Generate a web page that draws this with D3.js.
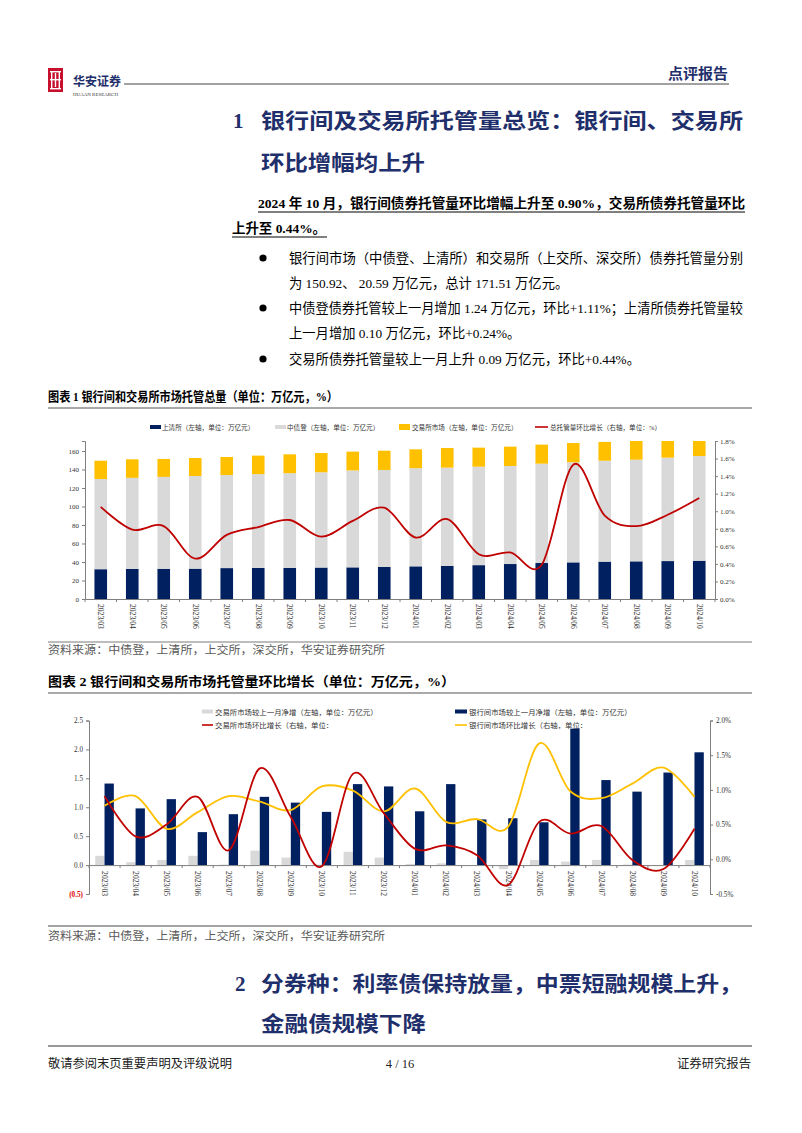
<!DOCTYPE html>
<html><head><meta charset="utf-8">
<script src="https://cdn.jsdelivr.net/npm/d3@7"></script>
<style>
html,body{margin:0;padding:0;background:#fff;}
svg{display:block;}
</style></head>
<body>
<svg id="page" width="802" height="1133"></svg>
<script>
// ---------------- DATA ----------------
const categories = ["2023/03","2023/04","2023/05","2023/06","2023/07","2023/08","2023/09","2023/10","2023/11","2023/12",
  "2024/01","2024/02","2024/03","2024/04","2024/05","2024/06","2024/07","2024/08","2024/09","2024/10"];

// Chart 1 (万亿元, %)
const shClearing = [32.2,32.6,32.7,32.8,33.4,33.6,33.7,34.0,34.2,34.6,35.3,35.7,36.6,37.8,38.9,39.6,40.4,40.7,41.0,41.4];
const ccdc       = [97.5,98.4,99.3,100.2,100.6,101.4,102.3,103.0,104.8,104.9,106.1,106.3,106.4,106.0,107.4,108.2,109.1,109.9,111.8,113.2];
const exchange   = [19.8,20.0,19.4,19.4,19.5,20.0,20.4,20.8,20.3,20.8,20.4,21.2,20.6,20.9,20.6,20.8,20.3,20.4,20.5,20.6];
const totalGrowth = [1.05,0.79,0.83,0.46,0.73,0.82,0.90,0.71,0.89,1.04,0.70,0.91,0.51,0.53,0.39,1.53,0.95,0.83,0.96,1.15];
const c1LeftTicks = [0,20,40,60,80,100,120,140,160];
const c1RightTicks = [0,0.2,0.4,0.6,0.8,1.0,1.2,1.4,1.6,1.8];

// Chart 2
const exNet    = [0.16,0.05,0.09,0.16,0.01,0.25,0.13,0.01,0.23,0.13,0.02,0.03,0.00,-0.07,0.09,0.06,0.09,0.01,-0.01,0.09];
const ibNet    = [1.41,0.98,1.14,0.57,0.88,1.18,1.08,0.92,1.40,1.36,0.93,1.40,0.79,0.81,0.74,2.36,1.47,1.27,1.60,1.95];
const exGrowth = [0.91,0.33,0.50,0.90,0.13,1.31,0.61,-0.10,1.23,0.66,0.15,0.20,0.06,-0.37,0.54,0.37,0.48,-0.01,-0.14,0.44];
const ibGrowth = [0.77,0.91,0.44,0.68,0.91,0.83,0.71,1.05,0.99,0.69,1.02,0.54,0.58,0.47,1.67,0.98,0.88,1.09,1.32,0.90];
const c2LeftTicks = [-0.5,0,0.5,1.0,1.5,2.0,2.5];
const c2LeftLabels = ["(0.5)","0.0","0.5","1.0","1.5","2.0","2.5"];
const c2RightTicks = [-0.5,0,0.5,1.0,1.5,2.0];
const c2RightLabels = ["-0.5%","0.0%","0.5%","1.0%","1.5%","2.0%"];

// ---------------- STYLE ----------------
const NAVY = "#002060", GRAY = "#d9d9d9", YELLOW = "#ffc000", RED = "#c00000";
const HEAD = "#1f2f6b";
const FONT = "'Liberation Serif','Noto Sans CJK SC',serif";
const AXIS = "#7f7f7f";

const svg = d3.select("#page");
svg.append("rect").attr("width",802).attr("height",1133).attr("fill","#fff");

function txt(x,y,s,o={}){
  const t = svg.append("text").attr("x",x).attr("y",y).text(s)
    .attr("font-family",o.family||FONT).attr("font-size",o.size||13)
    .attr("font-weight",o.weight||400).attr("fill",o.fill||"#000")
    .attr("text-anchor",o.anchor||"start");
  if(o.len){t.attr("textLength",o.len).attr("lengthAdjust","spacingAndGlyphs");}
  return t;
}
function hline(x1,x2,y,c,w){svg.append("line").attr("x1",x1).attr("x2",x2).attr("y1",y).attr("y2",y).attr("stroke",c).attr("stroke-width",w);}

// ---------------- HEADER ----------------
const logo = svg.append("g");
logo.append("rect").attr("x",48).attr("y",68).attr("width",15).attr("height",24).attr("fill","#c8102e");
[[50,71,11,1.4],[50,79,11,1.4],[50,88,11,1.4]].forEach(d=>logo.append("rect").attr("x",d[0]).attr("y",d[1]).attr("width",d[2]).attr("height",d[3]).attr("fill","#fff"));
[[51,71,1.4,18],[58.6,71,1.4,18],[54.8,73,1.4,14]].forEach(d=>logo.append("rect").attr("x",d[0]).attr("y",d[1]).attr("width",d[2]).attr("height",d[3]).attr("fill","#fff"));
txt(73,86,"华安证券",{size:12.5,weight:700,fill:HEAD,len:48});
txt(73,96,"HUAAN RESEARCH",{size:5,fill:"#333",len:45});
hline(124,729,84,"#444",1);
txt(728,79,"点评报告",{size:14.5,weight:700,fill:HEAD,anchor:"end",len:60});

// ---------------- SECTION 1 HEADING ----------------
txt(233,128,"1",{size:21,weight:700,fill:HEAD});
txt(261,128,"银行间及交易所托管量总览：银行间、交易所",{size:21,weight:700,fill:HEAD,len:482});
txt(261,170,"环比增幅均上升",{size:21,weight:700,fill:HEAD,len:164});

// paragraph
txt(258,208,"2024 年 10 月，银行间债券托管量环比增幅上升至 0.90%，交易所债券托管量环比",{size:13.5,weight:700,len:487});
hline(258,745,212,"#000",1);
txt(232,233,"上升至 0.44%。",{size:13.5,weight:700,len:94});
hline(232,327,237,"#000",1);

[258,308,359].forEach(y=>svg.append("circle").attr("cx",263).attr("cy",y).attr("r",3.6).attr("fill","#000"));
txt(289,262.5,"银行间市场（中债登、上清所）和交易所（上交所、深交所）债券托管量分别",{size:13.3,len:454});
txt(289,287.5,"为 150.92、 20.59 万亿元，总计 171.51 万亿元。",{size:13.3});
txt(289,312.5,"中债登债券托管较上一月增加 1.24 万亿元，环比+1.11%；上清所债券托管量较",{size:13.3,len:454});
txt(289,337.5,"上一月增加 0.10 万亿元，环比+0.24%。",{size:13.3});
txt(289,363.5,"交易所债券托管量较上一月上升 0.09 万亿元，环比+0.44%。",{size:13.3});

// ---------------- CHART 1 ----------------
txt(48,401,"图表 1 银行间和交易所市场托管总量（单位：万亿元，%）",{size:13,weight:700,len:290});
hline(48,752,408,"#8c8c8c",1.5);

const x1 = d3.scaleBand().domain(categories).range([85,715]).paddingInner(0.6).paddingOuter(0.3);
const y1 = d3.scaleLinear().domain([0,170.8]).range([599,441]);
const y1r = d3.scaleLinear().domain([0,1.8]).range([599,441]);

svg.append("clipPath").attr("id","c1clip").append("rect").attr("x",85).attr("y",441).attr("width",630).attr("height",158);

// legend chart1
const lg1 = svg.append("g").attr("font-family",FONT).attr("font-size",6.6).attr("fill","#333");
lg1.append("rect").attr("x",150).attr("y",425).attr("width",11).attr("height",4).attr("fill",NAVY);
lg1.append("text").attr("x",162).attr("y",429.5).text("上清所（左轴，单位：万亿元）");
lg1.append("rect").attr("x",275).attr("y",425).attr("width",11).attr("height",4).attr("fill",GRAY);
lg1.append("text").attr("x",287).attr("y",429.5).text("中债登（左轴，单位：万亿元）");
lg1.append("rect").attr("x",399).attr("y",424).attr("width",11).attr("height",6).attr("fill",YELLOW);
lg1.append("text").attr("x",412).attr("y",429.5).text("交易所市场（左轴，单位：万亿元）");
lg1.append("line").attr("x1",535).attr("x2",548).attr("y1",427).attr("y2",427).attr("stroke",RED).attr("stroke-width",1.6);
lg1.append("text").attr("x",550).attr("y",429.5).text("总托管量环比增长（右轴，单位：%）");

// stacked bars
const stackData = categories.map((c,i)=>({cat:c, sh:shClearing[i], cd:ccdc[i], ex:exchange[i]}));
const stack = d3.stack().keys(["sh","cd","ex"])(stackData);
const stackColors = {sh:NAVY, cd:GRAY, ex:YELLOW};
const gBars1 = svg.append("g").attr("clip-path","url(#c1clip)");
stack.forEach(layer=>{
  gBars1.selectAll(null).data(layer).enter().append("rect")
    .attr("x",d=>x1(d.data.cat)).attr("width",x1.bandwidth())
    .attr("y",d=>y1(d[1])).attr("height",d=>y1(d[0])-y1(d[1]))
    .attr("fill",stackColors[layer.key]);
});

// axes chart1
const ax1L = svg.append("g").attr("transform","translate(85,0)")
  .call(d3.axisLeft(y1).tickValues(c1LeftTicks).tickSize(3).tickPadding(3).tickFormat(d3.format("d")));
const ax1R = svg.append("g").attr("transform","translate(715,0)")
  .call(d3.axisRight(y1r).tickValues(c1RightTicks).tickSize(3).tickPadding(2).tickFormat(d=>d.toFixed(1)+"%"));
[ax1L,ax1R].forEach(a=>{
  a.select(".domain").attr("stroke",AXIS);
  a.selectAll(".tick line").attr("stroke",AXIS);
  a.selectAll("text").attr("font-family",FONT).attr("font-size",7).attr("fill","#333");
});
const ax1B = svg.append("g").attr("transform","translate(0,599)")
  .call(d3.axisBottom(x1).tickSize(0).tickPadding(0));
ax1B.select(".domain").attr("stroke",AXIS);
ax1B.selectAll(".tick text").attr("font-family",FONT).attr("font-size",7.6).attr("fill","#333")
  .attr("text-anchor","start").attr("dy","0.35em").attr("transform","translate(0,5) rotate(90)").attr("x",0).attr("y",0);
d3.range(categories.length+1).forEach(i=>{
  const xb = x1.range()[0] + i*x1.step();
  svg.append("line").attr("x1",xb).attr("x2",xb).attr("y1",599).attr("y2",602).attr("stroke",AXIS);
});

// line chart1
const line1 = d3.line().x((d,i)=>x1(categories[i])+x1.bandwidth()/2).y(d=>y1r(d)).curve(d3.curveCardinal.tension(0));
svg.append("path").datum(totalGrowth).attr("d",line1).attr("fill","none").attr("stroke",RED).attr("stroke-width",1.8);

hline(48,752,642,"#595959",0.8);
txt(48,654,"资料来源：中债登，上清所，上交所，深交所，华安证券研究所",{size:11.5,fill:"#595959",len:337});

// ---------------- CHART 2 ----------------
txt(48,686,"图表 2 银行间和交易所市场托管量环比增长（单位：万亿元，%）",{size:13,weight:700,len:407});
hline(48,752,693,"#8c8c8c",1.5);

const x2 = d3.scaleBand().domain(categories).range([89,710]).paddingInner(0.4).paddingOuter(0.2);
const x2s = d3.scaleBand().domain(["ex","ib"]).range([0,x2.bandwidth()]).padding(0);
const y2 = d3.scaleLinear().domain([-0.5,2.5]).range([894,720.5]);
const y2r = d3.scaleLinear().domain([-0.5,2.0]).range([894,720.5]);

// legend chart 2
const lg2 = svg.append("g").attr("font-family",FONT).attr("font-size",7.4).attr("fill","#333");
lg2.append("rect").attr("x",202).attr("y",709.5).attr("width",11).attr("height",4).attr("fill",GRAY);
lg2.append("text").attr("x",215).attr("y",714.5).text("交易所市场较上一月净增（左轴，单位：万亿元）");
lg2.append("rect").attr("x",455).attr("y",709.5).attr("width",12).attr("height",4).attr("fill",NAVY);
lg2.append("text").attr("x",469).attr("y",714.5).text("银行间市场较上一月净增（左轴，单位：万亿元）");
lg2.append("line").attr("x1",202).attr("x2",213).attr("y1",725).attr("y2",725).attr("stroke",RED).attr("stroke-width",1.6);
lg2.append("text").attr("x",215).attr("y",728).text("交易所市场环比增长（右轴，单位：");
lg2.append("line").attr("x1",455).attr("x2",467).attr("y1",725).attr("y2",725).attr("stroke",YELLOW).attr("stroke-width",1.6);
lg2.append("text").attr("x",469).attr("y",728).text("银行间市场环比增长（右轴，单位：");

// bars
const g2 = svg.append("g");
g2.selectAll(".ex").data(exNet).enter().append("rect")
  .attr("x",(d,i)=>x2(categories[i])+x2s("ex")).attr("width",x2s.bandwidth())
  .attr("y",d=>y2(Math.max(0,d))).attr("height",d=>Math.abs(y2(d)-y2(0)))
  .attr("fill",GRAY);
g2.selectAll(".ib").data(ibNet).enter().append("rect")
  .attr("x",(d,i)=>x2(categories[i])+x2s("ib")).attr("width",x2s.bandwidth())
  .attr("y",d=>y2(Math.max(0,d))).attr("height",d=>Math.abs(y2(d)-y2(0)))
  .attr("fill",NAVY);

// axes chart 2
const ax2L = svg.append("g").attr("transform","translate(89,0)")
  .call(d3.axisLeft(y2).tickValues(c2LeftTicks).tickSize(3).tickPadding(3).tickFormat((d,i)=>c2LeftLabels[i]));
const ax2R = svg.append("g").attr("transform","translate(710,0)")
  .call(d3.axisRight(y2r).tickValues(c2RightTicks).tickSize(3).tickPadding(3).tickFormat((d,i)=>c2RightLabels[i]));
[ax2L,ax2R].forEach(a=>{
  a.select(".domain").attr("stroke",AXIS);
  a.selectAll(".tick line").attr("stroke",AXIS);
  a.selectAll("text").attr("font-family",FONT).attr("font-size",7.2).attr("fill","#333");
});
ax2L.selectAll(".tick text").filter((d)=>d<0).attr("fill","#e00000").attr("font-weight",700);
const ax2B = svg.append("g").attr("transform","translate(0,"+y2(0)+")")
  .call(d3.axisBottom(x2).tickSize(0).tickPadding(0));
ax2B.select(".domain").attr("stroke",AXIS);
ax2B.selectAll(".tick text").attr("font-family",FONT).attr("font-size",7.6).attr("fill","#333")
  .attr("text-anchor","start").attr("dy","0.35em").attr("transform","translate(0,6) rotate(90)").attr("x",0).attr("y",0);
d3.range(categories.length+1).forEach(i=>{
  const xb = x2.range()[0] + i*x2.step();
  svg.append("line").attr("x1",xb).attr("x2",xb).attr("y1",y2(0)).attr("y2",y2(0)+3).attr("stroke",AXIS);
});

const line2 = d3.line().x((d,i)=>x2(categories[i])+x2.bandwidth()/2).y(d=>y2r(d)).curve(d3.curveCardinal.tension(0));
svg.append("path").datum(ibGrowth).attr("d",line2).attr("fill","none").attr("stroke",YELLOW).attr("stroke-width",1.8);
svg.append("path").datum(exGrowth).attr("d",line2).attr("fill","none").attr("stroke",RED).attr("stroke-width",1.8);

hline(48,752,926,"#333",0.9);
txt(48,940,"资料来源：中债登，上清所，上交所，深交所，华安证券研究所",{size:11.5,fill:"#595959",len:337});

// ---------------- SECTION 2 HEADING ----------------
txt(235,991,"2",{size:21,weight:700,fill:HEAD});
txt(261,991,"分券种：利率债保持放量，中票短融规模上升，",{size:21,weight:700,fill:HEAD,len:481});
txt(261,1031,"金融债规模下降",{size:21,weight:700,fill:HEAD,len:165});

// ---------------- FOOTER ----------------
hline(48,752,1046,"#333",1);
txt(48,1068,"敬请参阅末页重要声明及评级说明",{size:12.3,fill:"#222",len:184});
txt(400,1068,"4 / 16",{size:12.5,fill:"#222",anchor:"middle"});
txt(751,1068,"证券研究报告",{size:12.3,fill:"#222",anchor:"end",len:74});
</script>
</body></html>
